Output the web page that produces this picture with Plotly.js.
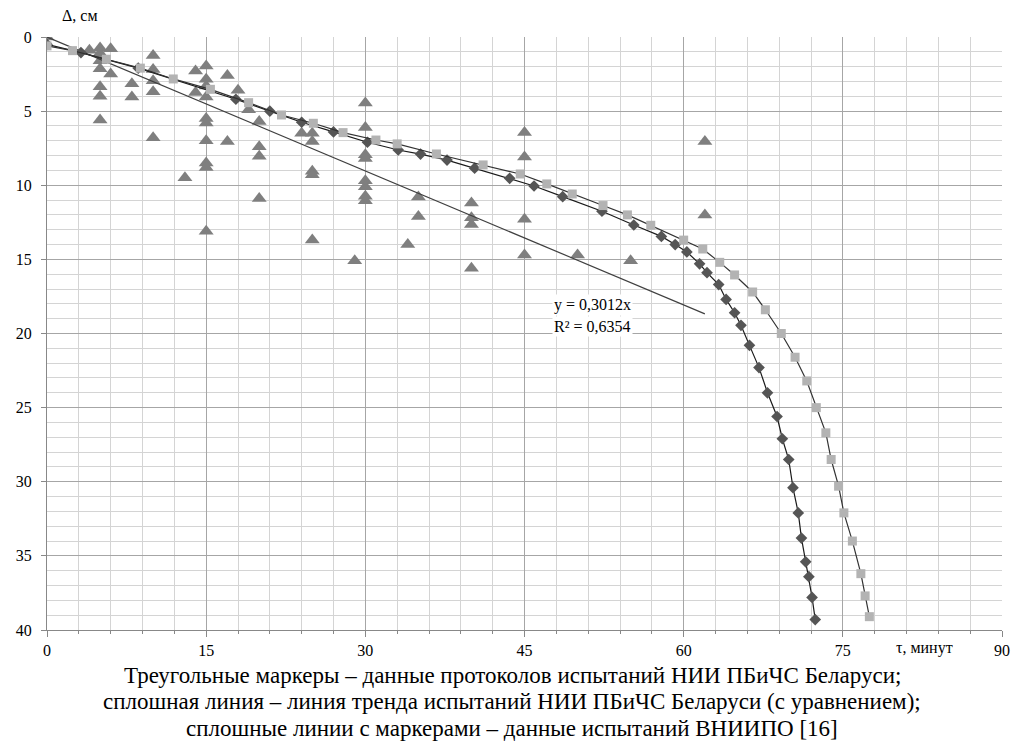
<!DOCTYPE html>
<html>
<head>
<meta charset="utf-8">
<script src="https://cdn.plot.ly/plotly-3.0.1.min.js"></script>
<style>html,body{margin:0;padding:0;background:#fff;}#chart{width:1014px;height:754px;}</style>
</head>
<body>
<div id="chart"></div>
<script>
// Triangles: НИИ ПБиЧС Беларуси test protocols
const triX = [0, 4, 5, 5, 5, 5, 5, 5, 5, 6, 6, 8, 8, 10, 10, 10, 10, 10, 13, 14, 14,
  15, 15, 15, 15, 15, 15, 15, 15, 15, 15, 17, 17, 18, 19, 20, 20, 20, 20,
  24, 25, 25, 25, 25, 25, 29, 30, 30, 30, 30, 30, 30, 30, 30, 34, 35, 35,
  40, 40, 40, 40, 45, 45, 45, 45, 50, 55, 62, 62];
const triY = [0, 0.9, 0.75, 1.1, 1.6, 2.15, 3.35, 4.0, 5.6, 0.8, 2.5, 3.15, 4.05, 1.25, 2.2, 2.95, 3.7, 6.8, 9.5, 2.3, 3.75,
  1.95, 2.85, 3.3, 4.05, 5.5, 5.8, 7.0, 8.5, 8.8, 13.1, 2.6, 7.05, 3.6, 4.9, 5.7, 7.4, 8.05, 10.9,
  6.5, 6.5, 7.05, 9.05, 9.3, 13.7, 15.1, 4.45, 6.1, 7.95, 8.2, 9.7, 10.1, 10.75, 11.05, 14.0, 10.8, 12.1,
  11.2, 12.2, 12.65, 15.6, 6.45, 8.1, 12.3, 14.7, 14.7, 15.1, 7.05, 12.0];

// Diamonds: ВНИИПО series 1
const diaX = [0, 3.2, 8.6, 17.8, 21.0, 24.0, 27.0, 30.2, 33.1, 35.2, 37.7, 40.3, 43.6, 45.9, 48.6,
  52.3, 55.3, 57.9, 59.2, 60.3, 61.5, 62.2, 63.3, 64.0, 64.8, 65.4, 66.2, 67.1, 67.9, 68.8,
  69.3, 69.9, 70.3, 70.8, 71.1, 71.5, 71.8, 72.1, 72.4];
const diaY = [0.5, 1.05, 2.1, 4.2, 5.0, 5.75, 6.4, 7.1, 7.62, 7.9, 8.3, 8.85, 9.53, 10.05, 10.77,
  11.75, 12.68, 13.45, 14.0, 14.5, 15.3, 15.9, 16.7, 17.7, 18.6, 19.45, 20.8, 22.3, 24.0, 25.6,
  27.1, 28.5, 30.4, 32.1, 33.8, 35.4, 36.4, 37.8, 39.3];

// Squares: ВНИИПО series 2
const sqX = [0, 2.4, 5.6, 8.8, 11.9, 15.4, 19.0, 22.1, 25.1, 27.9, 31.0, 33.0, 36.7, 41.1, 44.6,
  47.1, 49.5, 52.4, 54.7, 56.9, 60.0, 61.8, 63.4, 64.8, 66.5, 67.7, 69.2, 70.5, 71.6, 72.5,
  73.4, 73.9, 74.6, 75.1, 75.9, 76.7, 77.1, 77.5];
const sqY = [0.6, 0.92, 1.5, 2.1, 2.83, 3.53, 4.43, 5.26, 5.82, 6.45, 6.95, 7.21, 7.89, 8.63, 9.24,
  9.91, 10.59, 11.37, 12.0, 12.7, 13.7, 14.3, 15.2, 16.05, 17.2, 18.4, 20.0, 21.6, 23.2, 25.0,
  26.7, 28.5, 30.3, 32.1, 34.0, 36.2, 37.7, 39.1];

// Linear trend y = 0.3012x
const trendSlope = 0.3012;
const trendX = [0, 62];
const trendY = trendX.map(x => trendSlope * x);

const xTicks = [0, 15, 30, 45, 60, 75, 90];
const yTicks = [0, 5, 10, 15, 20, 25, 30, 35, 40];

const captionLines = [
  'Треугольные маркеры – данные протоколов испытаний НИИ ПБиЧС Беларуси;',
  'сплошная линия – линия тренда испытаний НИИ ПБиЧС Беларуси (с уравнением);',
  'сплошные линии с маркерами – данные испытаний ВНИИПО [16]'
];

const serif = '"Liberation Serif", "Times New Roman", Times, serif';

const traces = [
  {x: triX, y: triY, mode: 'markers', type: 'scatter',
   marker: {symbol: 'triangle-up', size: 13, color: '#7f7f7f'}},
  {x: trendX, y: trendY, mode: 'lines', type: 'scatter',
   line: {color: '#404040', width: 1.2}},
  {x: diaX, y: diaY, mode: 'lines+markers', type: 'scatter',
   line: {color: '#1a1a1a', width: 1.2},
   marker: {symbol: 'diamond', size: 9, color: '#555555'}},
  {x: sqX, y: sqY, mode: 'lines+markers', type: 'scatter',
   line: {color: '#333333', width: 1.2},
   marker: {symbol: 'square', size: 9, color: '#b3b3b3'}}
];

const captionY = [-0.0759, -0.1214, -0.1669];
const captionAnn = captionLines.map((t, i) => ({
  x: 0.487, y: captionY[i], xref: 'paper', yref: 'paper', text: t,
  showarrow: false, xanchor: 'center', yanchor: 'middle',
  font: {family: serif, size: 23}
}));

const layout = {
  width: 1014, height: 754,
  margin: {l: 47, r: 12, t: 37, b: 124},
  paper_bgcolor: '#fff', plot_bgcolor: '#fff',
  showlegend: false,
  font: {family: serif, size: 16, color: '#000'},
  xaxis: {
    range: [0, 90], tickvals: xTicks, ticktext: xTicks.map(String),
    showgrid: true, gridcolor: '#a6a6a6', gridwidth: 1,
    minor: {dtick: 3, showgrid: true, gridcolor: '#d4d4d4', gridwidth: 1, ticks: 'outside', ticklen: 3, tickcolor: '#888'},
    ticks: 'outside', ticklen: 6, tickcolor: '#888',
    showline: true, linecolor: '#888', linewidth: 1, zeroline: false,
    tickfont: {family: serif, size: 16}, fixedrange: true
  },
  yaxis: {
    range: [40, 0], tickvals: yTicks, ticktext: yTicks.map(String),
    showgrid: true, gridcolor: '#a6a6a6', gridwidth: 1,
    minor: {dtick: 1, showgrid: true, gridcolor: '#d4d4d4', gridwidth: 1},
    ticks: 'outside', ticklen: 5, tickcolor: '#888',
    showline: true, linecolor: '#888', linewidth: 1, zeroline: false,
    ticklabelstandoff: 6,
    tickfont: {family: serif, size: 16}, fixedrange: true
  },
  annotations: [
    {x: 47.6, y: 18.05, xref: 'x', yref: 'y', text: 'y = 0,3012x', showarrow: false,
     xanchor: 'left', yanchor: 'middle', font: {family: serif, size: 16}, bgcolor: '#fff'},
    {x: 47.6, y: 19.55, xref: 'x', yref: 'y', text: 'R² = 0,6354', showarrow: false,
     xanchor: 'left', yanchor: 'middle', font: {family: serif, size: 16}, bgcolor: '#fff'},
    {x: 0.0346, y: 1.037, xref: 'paper', yref: 'paper', text: 'Δ, см', showarrow: false,
     xanchor: 'center', yanchor: 'middle', font: {family: serif, size: 16}},
    {x: 0.919, y: -0.03, xref: 'paper', yref: 'paper', text: 'τ, минут', showarrow: false,
     xanchor: 'center', yanchor: 'middle', font: {family: serif, size: 16}}
  ].concat(captionAnn)
};

Plotly.newPlot('chart', traces, layout, {displayModeBar: false, staticPlot: true});
</script>
</body>
</html>
